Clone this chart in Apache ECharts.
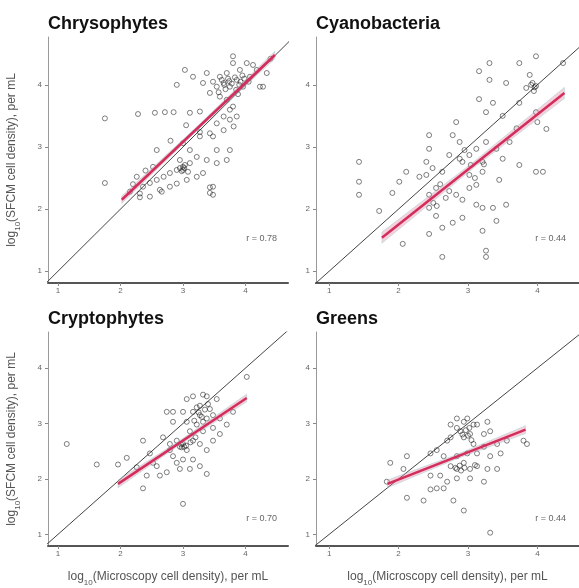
<!DOCTYPE html>
<html>
<head>
<meta charset="utf-8">
<script src="https://cdn.jsdelivr.net/npm/echarts@6/dist/echarts.min.js"></script>
<style>
  html, body { margin: 0; padding: 0; background: #fff; }
  #chart { width: 579px; height: 588px; }
</style>
</head>
<body>
<div id="chart"></div>
<script>
// Panel names and correlation labels
const panelNames = ['Chrysophytes', 'Cyanobacteria', 'Cryptophytes', 'Greens'];
const rLabels = ['r = 0.78', 'r = 0.44', 'r = 0.70', 'r = 0.44'];

// Tick labels shared by every axis
const xTicks = [1, 2, 3, 4];
const yTicks = [1, 2, 3, 4];

// Axis ranges (log10 units)
const xRangeLeft = [0.84, 4.68];
const xRangeRight = [0.81, 4.6];
const yRangeTop = [0.81, 4.77];
const yRangeBottom = [0.79, 4.65];

// 1:1 reference line extent
const identityExtent = [0, 5];

// Chrysophytes: microscopy (x) vs SFCM (y)
const chrysoX = [1.75,1.75,2.28,2.55,2.71,2.85,3.11,3.27,2.90,3.03,3.16,3.32,3.38,3.48,3.54,3.59,3.65,3.70,3.75,3.80,3.86,3.91,3.96,4.02,4.07,4.18,4.28,3.43,3.59,3.70,3.80,3.86,3.81,3.75,3.65,3.54,3.43,3.48,3.65,3.75,3.54,3.70,3.54,3.38,3.22,3.11,3.00,2.95,2.90,2.79,2.69,2.58,2.47,2.36,2.26,2.31,2.47,2.63,2.79,2.90,3.06,3.22,3.32,3.48,3.48,3.11,3.00,3.27,2.58,2.52,2.95,3.00,3.03,3.43,3.43,2.66,2.31,3.80,4.34,4.23,3.75,3.27,3.62,3.72,3.78,3.85,3.92,3.68,3.95,4.05,3.57,3.88,4.12,4.40,3.05,2.80,2.40,2.15,2.20,3.66,3.74,3.83,3.90,3.98,2.98,3.02,3.08];
const chrysoY = [3.46,2.42,3.53,3.55,3.56,3.56,3.55,3.57,4.00,4.24,4.13,4.03,4.19,4.05,3.97,4.13,4.03,4.19,3.97,4.46,4.08,4.24,3.97,4.35,4.13,4.24,3.97,3.87,3.81,3.76,3.65,3.49,3.33,3.44,3.49,3.38,3.22,3.17,3.27,2.95,2.95,2.79,2.74,2.79,2.84,2.74,2.68,2.79,2.63,2.58,2.52,2.47,2.42,2.36,2.52,2.25,2.20,2.31,2.36,2.41,2.47,2.52,2.58,2.36,2.23,2.95,3.06,3.17,2.95,2.68,2.66,2.63,2.71,2.35,2.26,2.28,2.19,4.35,4.19,3.97,3.60,3.24,4.08,4.10,4.02,3.92,4.05,3.93,4.15,4.05,3.88,3.85,4.32,4.42,3.35,3.10,2.62,2.28,2.40,4.00,4.06,4.12,4.00,4.10,2.61,2.66,2.60];

// Cyanobacteria
const cyanoX = [3.31,3.16,3.74,3.98,4.37,3.31,3.55,3.89,3.91,3.98,3.84,3.16,3.36,3.26,3.50,3.74,3.98,4.13,2.83,2.78,2.88,2.73,2.44,2.40,2.49,2.63,2.88,3.02,3.12,3.26,3.41,3.60,3.50,3.21,3.04,2.92,3.74,3.98,4.08,3.45,2.40,2.54,2.83,3.02,3.12,2.68,2.73,2.44,1.91,1.72,2.44,2.54,2.78,2.92,3.12,3.21,3.36,3.55,3.41,3.21,2.63,2.44,2.06,2.63,3.26,3.26,2.92,3.02,2.30,2.11,2.01,2.44,1.43,1.43,1.43,3.21,3.23,4.00,3.95,3.70,3.10,2.95,2.60,3.93,3.96,2.50,2.55];
const cyanoY = [4.35,4.22,4.35,4.46,4.35,4.08,4.03,4.16,4.00,3.98,3.95,3.77,3.71,3.56,3.50,3.71,3.56,3.29,3.40,3.19,3.08,2.87,2.97,2.76,2.66,2.60,2.81,2.87,2.97,3.08,2.97,3.08,2.81,2.60,2.71,2.76,2.71,2.60,2.60,2.47,2.55,2.34,2.23,2.34,2.39,2.18,2.29,2.23,2.26,1.97,2.02,1.89,1.78,1.86,2.07,2.02,2.02,2.07,1.81,1.65,1.70,1.60,1.44,1.23,1.33,1.23,2.15,2.55,2.52,2.60,2.44,3.19,2.76,2.44,2.23,2.76,2.72,3.40,3.90,3.30,2.50,2.95,2.40,4.03,3.96,2.10,2.05];

// Cryptophytes
const cryptoX = [1.14,1.62,1.96,2.10,2.36,2.26,2.47,2.58,2.42,2.74,2.84,2.68,2.79,2.90,2.95,3.00,3.06,2.84,3.00,3.16,3.11,2.95,3.27,3.38,2.63,2.74,3.06,3.16,3.38,3.54,3.27,3.43,3.16,3.27,3.38,3.48,3.59,3.22,3.32,3.48,3.59,3.11,3.70,3.80,4.02,2.84,3.00,3.06,3.48,3.38,3.27,3.16,3.00,2.36,3.22,3.32,3.32,2.52,2.90,2.79,3.05,3.12,3.20,2.98,3.25,3.30,3.35,3.18,3.40,2.97,3.02];
const cryptoY = [2.63,2.26,2.26,2.38,2.69,2.21,2.46,2.23,2.06,3.21,3.03,2.75,2.63,2.69,2.58,2.63,2.52,2.41,2.35,2.35,2.18,2.18,2.23,2.09,2.06,2.12,3.44,3.49,3.49,3.44,3.32,3.26,3.21,3.15,3.09,3.15,3.09,2.98,2.86,2.92,2.81,2.86,2.98,3.21,3.84,3.21,3.21,3.03,2.69,2.52,2.63,2.69,1.55,1.83,3.29,3.03,3.52,2.29,2.29,2.52,2.60,2.66,2.75,2.57,3.20,3.12,3.25,3.05,3.35,2.62,2.58];

// Greens
const greensX = [2.75,2.84,2.94,3.13,3.28,3.32,3.23,3.03,2.94,2.89,2.75,2.70,3.08,3.23,3.42,3.56,3.80,3.85,2.55,2.46,2.65,2.84,2.99,3.13,3.32,3.47,2.75,2.84,2.94,3.03,3.13,3.28,3.42,2.60,2.46,2.70,2.84,3.03,3.23,2.55,2.46,2.65,2.12,2.07,1.88,1.83,2.12,2.36,2.79,2.94,3.32,3.08,2.99,2.84,3.00,3.05,2.95,3.10,2.90,2.97,3.02,2.92,2.88,2.82];
const greensY = [2.98,2.92,3.03,2.98,3.03,2.86,2.81,2.81,2.75,2.86,2.75,2.69,2.63,2.58,2.63,2.69,2.69,2.63,2.52,2.46,2.41,2.41,2.46,2.46,2.41,2.46,2.23,2.18,2.29,2.18,2.23,2.18,2.18,2.06,2.06,1.95,2.01,2.01,1.95,1.83,1.81,1.83,2.41,2.18,2.29,1.95,1.66,1.61,1.61,1.43,1.03,2.98,3.09,3.09,2.78,2.70,2.20,2.25,2.15,2.88,2.92,2.80,2.24,2.20];

// Fitted regression lines: [start, end] as [x, y]
const fitChryso = [[2.02, 2.15], [4.47, 4.48]];
const fitCyano = [[1.76, 1.54], [4.39, 3.87]];
const fitCrypto = [[1.96, 1.91], [4.02, 3.46]];
const fitGreens = [[1.84, 1.91], [3.83, 2.89]];

// Half-width of the confidence ribbon at the line ends
const bandHalf = [0.06, 0.09, 0.07, 0.07];

const pointSets = [[chrysoX, chrysoY], [cyanoX, cyanoY], [cryptoX, cryptoY], [greensX, greensY]];
const fits = [fitChryso, fitCyano, fitCrypto, fitGreens];

const gridBoxes = [
  { left: 48, top: 37, width: 240, height: 246 },
  { left: 316, top: 37, width: 263, height: 246 },
  { left: 48, top: 332, width: 240, height: 225 },
  { left: 316, top: 332, width: 263, height: 225 }
];

const LINE_RED = '#d12e5c';
const labelFont = 'Liberation Sans, Arial, sans-serif';

function toPairs(xs, ys) { return xs.map((x, i) => [x, ys[i]]); }

function bandPoints(fit, h) {
  const [a, b] = fit;
  const mx = (a[0] + b[0]) / 2, my = (a[1] + b[1]) / 2;
  return [[a[0], a[1] - h, a[1] + h], [mx, my - h * 0.55, my + h * 0.55], [b[0], b[1] - h, b[1] + h]];
}

const logName = {
  rich: {
    n: { fontSize: 12, color: '#555', fontFamily: labelFont },
    s: { fontSize: 8, color: '#555', fontFamily: labelFont, verticalAlign: 'bottom', padding: [0, 0, -4, 0] }
  }
};

const xAxes = gridBoxes.map((g, i) => {
  const range = (i % 2 === 0) ? xRangeLeft : xRangeRight;
  const bottom = i >= 2;
  return {
    type: 'value', gridIndex: i, min: range[0], max: range[1],
    splitLine: { show: false },
    axisLine: { show: true, lineStyle: { color: '#555', width: 2 } },
    axisTick: { show: true, length: 3, customValues: xTicks, lineStyle: { color: '#888' } },
    axisLabel: { customValues: xTicks, fontSize: 8, color: '#666', margin: 4, fontFamily: labelFont },
    name: bottom ? '{n|log}{s|10}{n|(Microscopy cell density), per mL}' : '',
    nameLocation: 'middle', nameGap: 25,
    nameTextStyle: logName
  };
});

const yAxes = gridBoxes.map((g, i) => {
  const range = (i < 2) ? yRangeTop : yRangeBottom;
  const left = i % 2 === 0;
  return {
    type: 'value', gridIndex: i, min: range[0], max: range[1],
    splitLine: { show: false },
    axisLine: { show: true, lineStyle: { color: '#999', width: 1 } },
    axisTick: { show: true, length: 3, customValues: yTicks, lineStyle: { color: '#888' } },
    axisLabel: { customValues: yTicks, fontSize: 8, color: '#666', margin: 6, fontFamily: labelFont },
    name: left ? '{n|log}{s|10}{n|(SFCM cell density), per mL}' : '',
    nameLocation: 'middle', nameGap: 30, nameRotate: 90,
    nameTextStyle: logName
  };
});

const series = [];
gridBoxes.forEach((g, i) => {
  // 1:1 line
  series.push({
    type: 'line', xAxisIndex: i, yAxisIndex: i, silent: true, symbol: 'none',
    data: [[identityExtent[0], identityExtent[0]], [identityExtent[1], identityExtent[1]]],
    lineStyle: { color: '#444', width: 1 }, clip: true, z: 2
  });
  // observations
  series.push({
    type: 'scatter', xAxisIndex: i, yAxisIndex: i, silent: true,
    data: toPairs(pointSets[i][0], pointSets[i][1]),
    symbol: 'circle', symbolSize: 5,
    itemStyle: { color: 'rgba(255,255,255,0)', borderColor: 'rgba(30,30,30,0.7)', borderWidth: 1 },
    z: 3
  });
  // confidence ribbon
  const band = bandPoints(fits[i], bandHalf[i]);
  series.push({
    type: 'custom', xAxisIndex: i, yAxisIndex: i, silent: true,
    data: band,
    renderItem: function (params, api) {
      if (params.dataIndex !== 0) return null;
      const upper = band.map(p => api.coord([p[0], p[2]]));
      const lower = band.map(p => api.coord([p[0], p[1]])).reverse();
      return {
        type: 'polygon',
        shape: { points: upper.concat(lower) },
        style: { fill: 'rgba(236,120,155,0.35)', stroke: 'rgba(120,210,210,0.35)', lineWidth: 1 }
      };
    },
    z: 4
  });
  // regression line
  series.push({
    type: 'line', xAxisIndex: i, yAxisIndex: i, silent: true, symbol: 'none',
    data: fits[i], lineStyle: { color: LINE_RED, width: 2.5 }, z: 5
  });
});

const titles = gridBoxes.map((g, i) => ({
  text: panelNames[i], left: g.left, top: g.top - 22, padding: 0,
  textStyle: { fontSize: 18, fontWeight: 'bold', color: '#111', fontFamily: labelFont }
}));

const rText = gridBoxes.map((g, i) => ({
  type: 'text',
  right: 579 - (g.left + (i % 2 === 0 ? 229 : 250)),
  top: g.top + (i < 2 ? 197 : 182),
  style: { text: rLabels[i], fontSize: 9, fill: '#666', fontFamily: labelFont }
}));

const chart = echarts.init(document.getElementById('chart'), null, { renderer: 'canvas' });
chart.setOption({
  animation: false,
  backgroundColor: '#fff',
  title: titles,
  grid: gridBoxes.map(g => Object.assign({ containLabel: false }, g)),
  xAxis: xAxes,
  yAxis: yAxes,
  series: series,
  graphic: rText
});
</script>
</body>
</html>
